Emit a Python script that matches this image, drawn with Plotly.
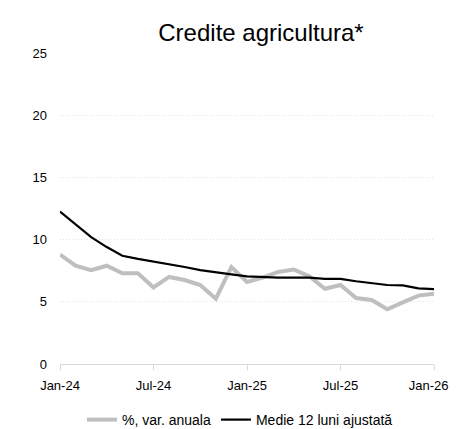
import plotly.graph_objects as go

# monthly categories Jan-24 .. Jan-26
months = ["Jan", "Feb", "Mar", "Apr", "May", "Jun", "Jul", "Aug", "Sep", "Oct", "Nov", "Dec"]
categories = [f"{m}-{y}" for y in (24, 25) for m in months] + ["Jan-26"]

var_anuala = [8.8, 7.9, 7.55, 7.9, 7.3, 7.3, 6.15, 7.0, 6.75, 6.35, 5.25, 7.8,
              6.6, 6.95, 7.4, 7.6, 7.05, 6.05, 6.35, 5.3, 5.15, 4.4, 4.95, 5.5, 5.65]
medie_12l = [12.25, 11.2, 10.2, 9.4, 8.7, 8.45, 8.25, 8.05, 7.8, 7.55, 7.35, 7.2,
             7.05, 6.97, 6.95, 6.95, 6.95, 6.85, 6.85, 6.65, 6.5, 6.35, 6.32, 6.08, 6.02]

tick_vals = ["Jan-24", "Jul-24", "Jan-25", "Jul-25", "Jan-26"]
# last label nudged left with no-break spaces so it isn't cut at the page edge
tick_text = ["Jan-24", "Jul-24", "Jan-25", "Jul-25", "Jan-26\u00a0\u00a0\u00a0"]

font = "Liberation Sans, Arial, sans-serif"

# page body has an 8px margin, so the figure is 8px smaller each way
W, H = 450, 421

fig = go.Figure()
fig.add_scatter(x=categories, y=var_anuala, mode="lines", name="%, var. anuala",
                line=dict(color="#bfbfbf", width=4))
fig.add_scatter(x=categories, y=medie_12l, mode="lines", name="Medie 12 luni ajustată",
                line=dict(color="#000000", width=2.2))

fig.update_layout(
    width=W, height=H,
    margin=dict(l=52, r=24, t=45, b=65, autoexpand=False),
    paper_bgcolor="white", plot_bgcolor="white",
    font=dict(family=font, size=13, color="#000000"),
    title=dict(text="Credite agricultura*", x=253 / W, xanchor="center",
               yref="container", y=1 - 25 / H, yanchor="middle",
               font=dict(size=24, family=font)),
    legend=dict(orientation="h", x=232 / W, xref="container", xanchor="center",
                yref="container", y=1 - 412 / H, yanchor="middle",
                font=dict(size=14), tracegroupgap=0),
    xaxis=dict(
        type="category", range=[0, 24], tickmode="array",
        tickvals=tick_vals, ticktext=tick_text,
        showgrid=False, zeroline=False, showline=True, linecolor="#d9d9d9", linewidth=1,
        ticks="outside", ticklen=5, tickcolor="#d9d9d9",
        ticklabeloverflow="allow", ticklabelstandoff=4, automargin=False,
    ),
    yaxis=dict(
        range=[0, 25], tickvals=[0, 5, 10, 15, 20, 25],
        showgrid=True, gridcolor="#e3e3e3", griddash="1px,2px", gridwidth=1,
        zeroline=False, showline=False, ticklabelstandoff=12, automargin=False,
    ),
)

fig.write_html("out.html")
